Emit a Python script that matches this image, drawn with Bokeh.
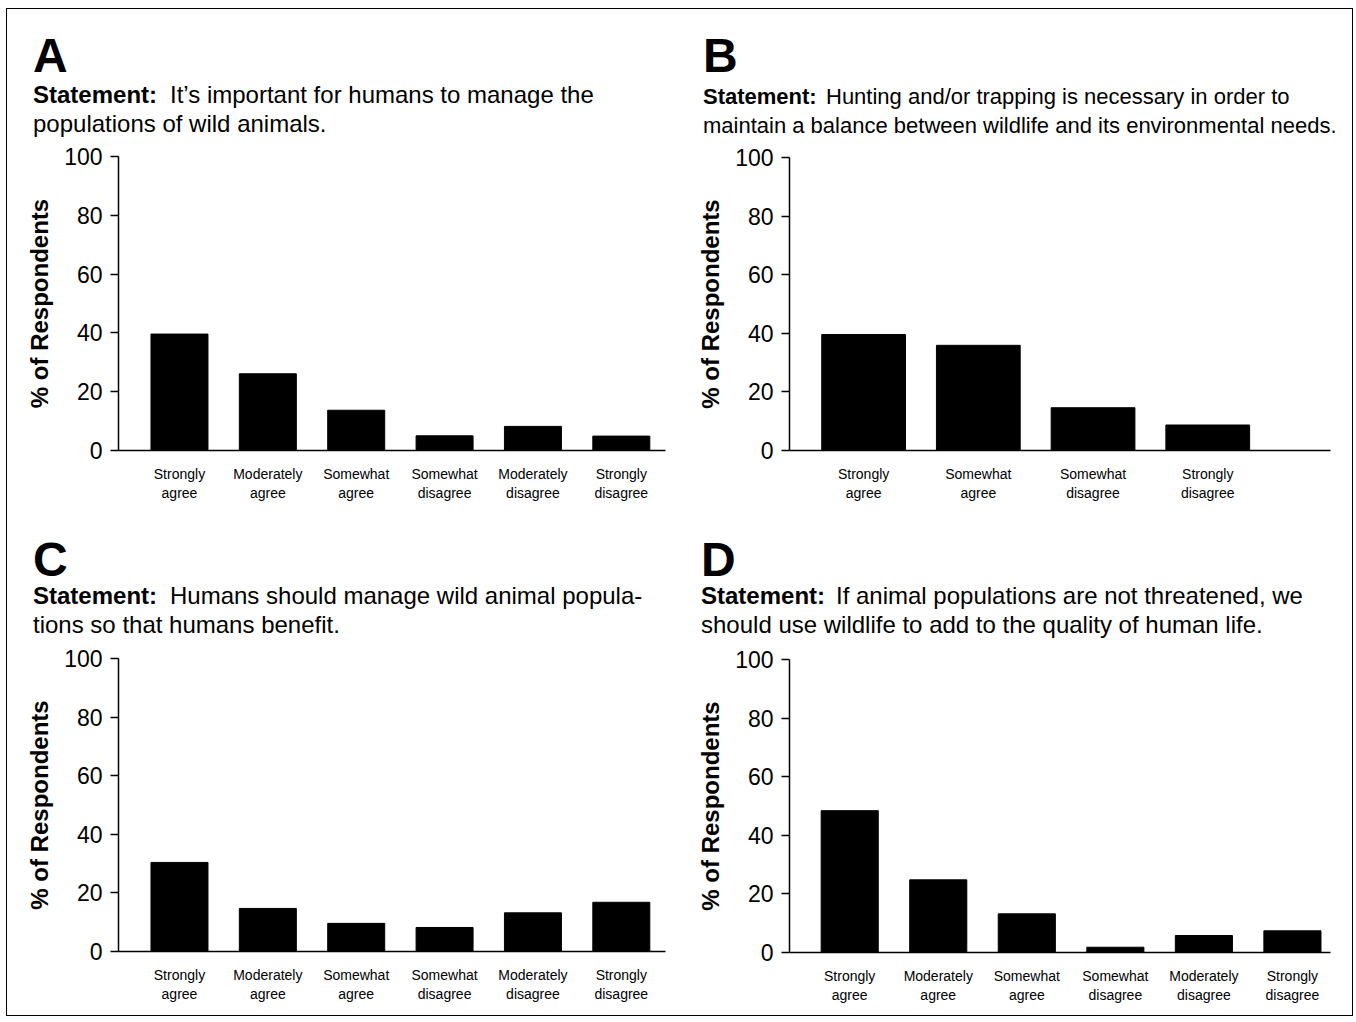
from bokeh.plotting import figure
from bokeh.models import Range1d, FixedTicker, ColumnDataSource, Plot
from bokeh.layouts import column, row
from bokeh.core.properties import value
from bokeh.embed import file_html
from bokeh.resources import INLINE

FONT = "Liberation Sans"

# ---- data ----
cats6 = ["Strongly agree", "Moderately agree", "Somewhat agree",
         "Somewhat disagree", "Moderately disagree", "Strongly disagree"]
cats4 = ["Strongly agree", "Somewhat agree", "Somewhat disagree", "Strongly disagree"]
vals_a = [39.6, 26.1, 13.7, 5.0, 8.2, 4.9]
vals_b = [39.6, 35.9, 14.6, 8.7]
vals_c = [30.4, 14.7, 9.6, 8.2, 13.2, 16.8]
vals_d = [48.4, 24.8, 13.2, 1.8, 5.8, 7.4]
yticks = [0, 20, 40, 60, 80, 100]
letters = ["A", "B", "C", "D"]
statements = [
    ["It\u2019s important for humans to manage the", "populations of wild animals."],
    ["Hunting and/or trapping is necessary in order to",
     "maintain a balance between wildlife and its environmental needs."],
    ["Humans should manage wild animal popula-", "tions so that humans benefit."],
    ["If animal populations are not threatened, we",
     "should use wildlife to add to the quality of human life."],
]
y_label = "% of Respondents"

HEAD_H = 130
PANEL_H = 503
HAS_FA = "frame_align" in Plot.properties()


def header(w, letter, stmt, fs, text_x, x0, ys):
    h = figure(width=w, height=HEAD_H, x_range=Range1d(0, w), y_range=Range1d(0, HEAD_H),
               x_axis_type=None, y_axis_type=None, output_backend="svg",
               toolbar_location=None, title=None,
               min_border_left=0, min_border_right=0, min_border_top=0, min_border_bottom=0)
    if HAS_FA:
        h.frame_align = False
    h.outline_line_color = None
    h.xgrid.visible = False
    h.ygrid.visible = False
    h.background_fill_color = "white"
    h.border_fill_color = "white"
    ly, s1, s2 = ys  # baselines, px from top

    def t(txt, x, base, size_px, style):
        mid = base - 0.35 * size_px
        h.text(x=[x], y=[HEAD_H - mid], text=[txt], text_font=value(FONT),
               text_font_size=value(f"{size_px}px"), text_font_style=style,
               text_color="black", text_baseline="middle", text_align="left")

    t(letter, x0, ly, 48, "bold")
    t("Statement:", x0, s1, fs, "bold")
    t(stmt[0], text_x, s1, fs, "normal")
    t(stmt[1], x0, s2, fs, "normal")
    return h


def chart(w, cats, vals, xr, bar_w, borders):
    left, right, top, bottom = borders
    p = figure(width=w, height=PANEL_H - HEAD_H, x_range=Range1d(*xr), y_range=Range1d(0, 100),
               output_backend="svg", toolbar_location=None,
               min_border_left=left, min_border_right=right,
               min_border_top=top, min_border_bottom=bottom)
    if HAS_FA:
        p.frame_align = False
    xs = list(range(len(cats)))
    src = ColumnDataSource(dict(x=xs, top=vals))
    p.vbar(x="x", top="top", bottom=0, width=bar_w, source=src,
           fill_color="black", line_color="black")
    p.xgrid.visible = False
    p.ygrid.visible = False
    p.outline_line_color = None
    p.background_fill_color = "white"
    p.border_fill_color = "white"

    xa = p.xaxis[0]
    xa.ticker = FixedTicker(ticks=xs)
    xa.major_label_overrides = {i: c.replace(" ", "\n") for i, c in enumerate(cats)}
    xa.major_tick_line_color = None
    xa.minor_tick_line_color = None
    xa.major_label_text_font = FONT
    xa.major_label_text_font_size = "14px"
    xa.major_label_text_color = "black"
    xa.major_label_standoff = 9
    xa.axis_line_width = 1.5
    xa.axis_line_color = "black"

    ya = p.yaxis[0]
    ya.ticker = FixedTicker(ticks=yticks)
    ya.major_tick_out = 8
    ya.major_tick_in = 0
    ya.major_tick_line_width = 1.5
    ya.minor_tick_line_color = None
    ya.axis_line_width = 1.5
    ya.axis_line_color = "black"
    ya.major_label_text_font = FONT
    ya.major_label_text_font_size = "23px"
    ya.major_label_text_color = "black"
    ya.major_label_standoff = 8
    ya.axis_label = y_label
    ya.axis_label_text_font = FONT
    ya.axis_label_text_font_size = "24px"
    ya.axis_label_text_font_style = "bold"
    ya.axis_label_text_color = "black"
    ya.axis_label_standoff = 8
    return p


WL, WR = 670, 675

hA = header(WL, letters[0], statements[0], 24, 162.5, 25.5, (62.5, 93.5, 122.5))
hB = header(WR, letters[1], statements[1], 22, 148.5, 25.5, (62.5, 94.5, 123.5))
hC = header(WL, letters[2], statements[2], 24, 162.5, 25.5, (63.5, 91.5, 120.5))
hD = header(WR, letters[3], statements[3], 24, 158.5, 23.5, (63.5, 91.5, 120.5))

cA = chart(WL, cats6, vals_a, (-0.69, 5.5), 0.645, (111, 12, 17, 62))
cB = chart(WR, cats4, vals_b, (-0.646, 4.07), 0.73, (112, 22, 18, 62))
cC = chart(WL, cats6, vals_c, (-0.69, 5.5), 0.645, (111, 12, 16, 64))
cD = chart(WR, cats6, vals_d, (-0.68, 5.43), 0.645, (112, 22, 17, 63))

layout = column(
    row(column(hA, cA), column(hB, cB)),
    row(column(hC, cC), column(hD, cD)),
)
layout.styles = {"border": "1.5px solid black", "margin": "8px 0 0 6px"}

open("out.html", "w").write(file_html(layout, INLINE))
